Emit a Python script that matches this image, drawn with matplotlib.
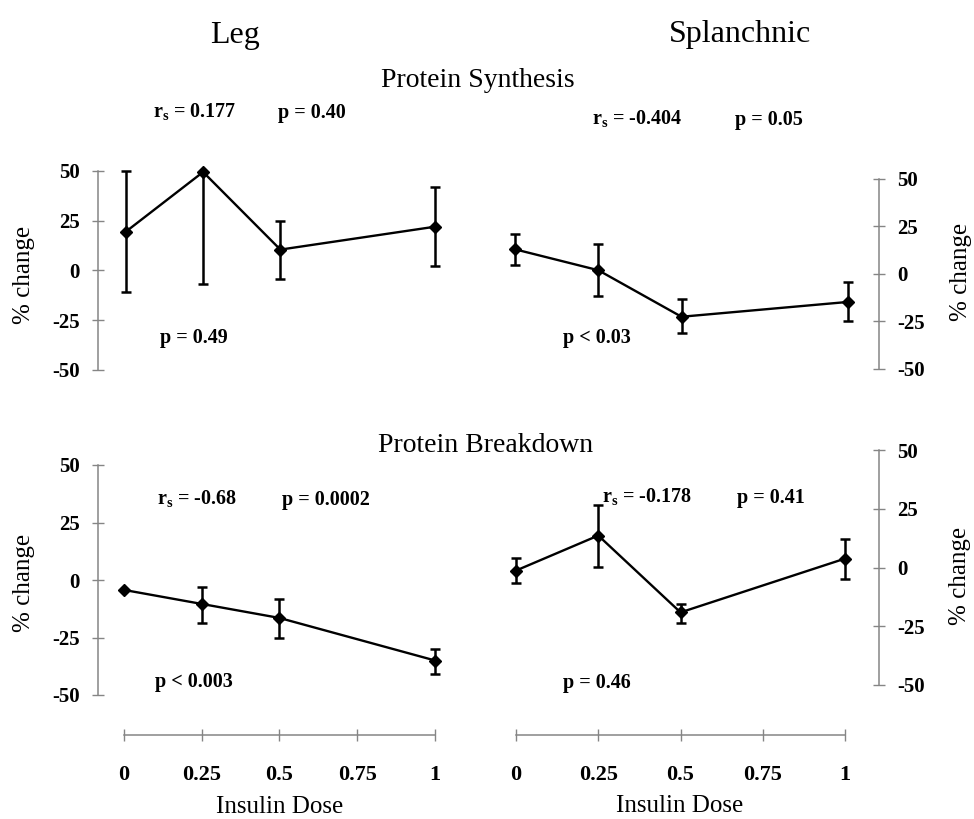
import matplotlib
matplotlib.use('Agg')
from matplotlib import pyplot as plt
import numpy as np

plt.rcParams['font.family'] = ['Liberation Serif', 'DejaVu Serif']
plt.rcParams['mathtext.fontset'] = 'custom'
plt.rcParams['mathtext.rm'] = 'Liberation Serif'
plt.rcParams['mathtext.bf'] = 'Liberation Serif:bold'

W, H = 974, 819

# data
dose = [0, 0.25, 0.5, 1]
xticks = [0, 0.25, 0.5, 0.75, 1]
xticklabels = ['0', '0.25', '0.5', '0.75', '1']
yticks = [-50, -25, 0, 25, 50]

leg_syn = [19.5, 49.5, 10.5, 22]
leg_syn_lo = [30.5, 56.5, 15, 19.5]
leg_syn_hi = [30.5, 0, 14.5, 20]

spl_syn = [13, 2, -22.5, -14.7]
spl_syn_lo = [8.3, 13.6, 8.5, 10.3]
spl_syn_hi = [8, 13.8, 9.5, 10.5]

leg_brk = [-4.3, -10.4, -16.5, -35]
leg_brk_lo = [0, 8.3, 8.7, 6]
leg_brk_hi = [0, 7.4, 8.2, 5]

spl_brk = [-1.3, 13.6, -19.1, 3.8]
spl_brk_lo = [5.1, 13.2, 4.7, 8.9]
spl_brk_hi = [5.3, 13.2, 3.4, 8.5]

def px(x, y):
    return x / W, 1 - y / H

def box(l, t, r, b):
    return [l / W, 1 - b / H, (r - l) / W, (b - t) / H]

fig = plt.figure(figsize=(W / 100, H / 100), dpi=100)

gray = '#858585'
tickfont = dict(fontsize=15, fontweight='bold')

def panel(rect, xlim, y, lo, hi, side, xaxis_out=None):
    ax = fig.add_axes(rect)
    ax.errorbar(dose, y, yerr=[lo, hi], color='k', lw=1.7, marker='D', ms=6,
                elinewidth=1.8, capsize=3.8, capthick=1.8, clip_on=False, zorder=3)
    ax.set_xlim(*xlim)
    ax.set_ylim(-50, 50)
    for s in ['top', 'left', 'right', 'bottom']:
        ax.spines[s].set_visible(False)
    ax.spines[side].set_visible(True)
    ax.spines[side].set_color(gray)
    ax.spines[side].set_linewidth(1.1)
    ax.set_yticks(yticks)
    ax.set_yticklabels([str(v) for v in yticks], **tickfont)
    if side == 'right':
        ax.yaxis.tick_right()
    ax.tick_params(axis='y', direction='inout', length=8, width=1, color=gray, pad=9)
    if xaxis_out is None:
        ax.set_xticks([])
    else:
        ax.spines['bottom'].set_visible(True)
        ax.spines['bottom'].set_color(gray)
        ax.spines['bottom'].set_linewidth(1.1)
        ax.spines['bottom'].set_position(('outward', xaxis_out))
        ax.spines['bottom'].set_bounds(0, 1)
        ax.set_xticks(xticks)
        ax.set_xticklabels(xticklabels, fontsize=16, fontweight='bold')
        ax.tick_params(axis='x', direction='inout', length=9, width=1, color=gray, pad=17)
    ax.patch.set_alpha(0)
    return ax

panel(box(98, 171, 455, 370), (-0.09, 1.065), leg_syn, leg_syn_lo, leg_syn_hi, 'left')
panel(box(490, 179, 879, 369), (-0.075, 1.093), spl_syn, spl_syn_lo, spl_syn_hi, 'right')
panel(box(98, 465, 455, 695), (-0.083, 1.064), leg_brk, leg_brk_lo, leg_brk_hi, 'left', xaxis_out=29)
panel(box(490, 450, 879, 685), (-0.079, 1.103), spl_brk, spl_brk_lo, spl_brk_hi, 'right', xaxis_out=36)

# titles and annotations
fig.text(*px(235, 43), 'Leg', fontsize=23, ha='center', va='baseline')
fig.text(*px(740, 42), 'Splanchnic', fontsize=23, ha='center', va='baseline')
fig.text(*px(478, 87), 'Protein Synthesis', fontsize=20, ha='center', va='baseline')
fig.text(*px(486, 452), 'Protein Breakdown', fontsize=20, ha='center', va='baseline')

ann = dict(fontsize=14.5, fontweight='bold', ha='left', va='baseline')
rs = r'r$_{\mathbf{s}}$ = '
fig.text(*px(153, 118), rs + '0.177', **ann)
fig.text(*px(278, 118), 'p = 0.40', **ann)
fig.text(*px(592, 125), rs + '-0.404', **ann)
fig.text(*px(735, 125), 'p = 0.05', **ann)
fig.text(*px(160, 343), 'p = 0.49', **ann)
fig.text(*px(563, 343), 'p < 0.03', **ann)
fig.text(*px(157, 505), rs + '-0.68', **ann)
fig.text(*px(282, 505), 'p = 0.0002', **ann)
fig.text(*px(602, 503), rs + '-0.178', **ann)
fig.text(*px(737, 503), 'p = 0.41', **ann)
fig.text(*px(155, 687), 'p < 0.003', **ann)
fig.text(*px(563, 688), 'p = 0.46', **ann)

fig.text(*px(280, 813), 'Insulin Dose', fontsize=18, ha='center', va='baseline')
fig.text(*px(680, 812), 'Insulin Dose', fontsize=18, ha='center', va='baseline')
lab = dict(fontsize=18, ha='center', va='center', rotation=90)
fig.text(*px(24, 275), '% change', **lab)
fig.text(*px(24, 583), '% change', **lab)
fig.text(*px(961, 272), '% change', **lab)
fig.text(*px(960, 576), '% change', **lab)

plt.savefig('out.png', dpi=100)
